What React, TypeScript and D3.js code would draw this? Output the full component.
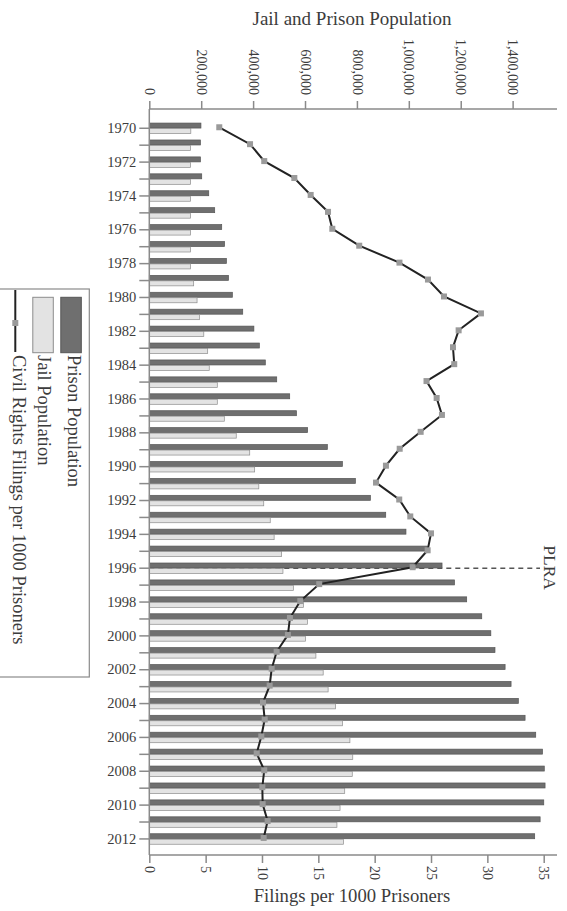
import { useEffect, useRef } from 'react';
import * as d3 from 'd3';

const years = [
  1970, 1971, 1972, 1973, 1974, 1975, 1976, 1977, 1978, 1979,
  1980, 1981, 1982, 1983, 1984, 1985, 1986, 1987, 1988, 1989,
  1990, 1991, 1992, 1993, 1994, 1995, 1996, 1997, 1998, 1999,
  2000, 2001, 2002, 2003, 2004, 2005, 2006, 2007, 2008, 2009,
  2010, 2011, 2012,
];

// thousands of people
const prisonPop = [
  199, 197, 197, 202, 229, 252, 279, 290, 297, 305,
  320, 360, 403, 424, 447, 491, 541, 567, 610, 686,
  744, 794, 852, 911, 989, 1071, 1128, 1176, 1223, 1281,
  1316, 1332, 1371, 1394, 1422, 1448, 1489, 1515, 1522, 1525,
  1520, 1506, 1485,
];

const jailPop = [
  160, 159, 159, 159, 159, 159, 159, 159, 159, 171,
  184, 193, 210, 225, 231, 262, 262, 289, 335, 387,
  406, 422, 441, 466, 481, 510, 515, 555, 594, 609,
  602, 642, 670, 689, 718, 744, 773, 784, 782, 753,
  735, 723, 748,
];

const filings = [
  6.21, 8.94, 10.2, 12.87, 14.32, 15.86, 16.24, 18.63, 22.2, 24.73,
  26.15, 29.43, 27.45, 26.95, 27.06, 24.6, 25.5, 25.97, 24.08, 22.22,
  21.0, 20.12, 22.18, 23.16, 25.0, 24.7, 23.37, 15.08, 13.4, 12.48,
  12.3, 11.3, 10.86, 10.68, 10.09, 10.24, 9.94, 9.53, 10.2, 10.03,
  10.06, 10.5, 10.15,
];

const popTicks = [0, 200000, 400000, 600000, 800000, 1000000, 1200000, 1400000];
const filingTicks = [0, 5, 10, 15, 20, 25, 30, 35];

const plraYear = 1996;

const FONT = '"Liberation Serif", "DejaVu Serif", serif';
const PRISON_FILL = '#6f6f6f';
const PRISON_STROKE = '#555';
const JAIL_FILL = '#e3e3e3';
const JAIL_STROKE = '#8c8c8c';
const AXIS_COLOR = '#8a8a8a';
const TEXT_COLOR = '#3c3c3c';

export default function App() {
  const svgRef = useRef<SVGSVGElement>(null);

  useEffect(() => {
    if (!svgRef.current) return;
    const svg = d3.select(svgRef.current);
    svg.selectAll('*').remove();

    const width = 567;
    const height = 911;
    const left = 149.3;
    const right = 557;
    const top = 109;
    const bottom = 855;

    svg.attr('width', width).attr('height', height);

    // scales
    const y = d3.scaleBand<number>()
      .domain(years)
      .range([119.8, 847.4])
      .paddingInner(0.35)
      .paddingOuter(0.175);
    const xPop = d3.scaleLinear().domain([0, 1571000]).range([left, right]);
    const xFil = d3.scaleLinear().domain([0, 36.18]).range([left, right]);

    const bw = y.bandwidth() / 2;
    const rows = years.map((yr, i) => ({
      year: yr,
      prison: prisonPop[i] * 1000,
      jail: jailPop[i] * 1000,
      filing: filings[i],
    }));

    // PLRA dashed marker (behind bars)
    const plraY = (y(plraYear) as number) + y.bandwidth() / 2;
    svg.append('line')
      .attr('x1', left)
      .attr('x2', 540)
      .attr('y1', plraY)
      .attr('y2', plraY)
      .attr('stroke', '#555')
      .attr('stroke-width', 1.4)
      .attr('stroke-dasharray', '5,4');

    // bars
    svg.selectAll('.prison')
      .data(rows)
      .enter()
      .append('rect')
      .attr('x', left)
      .attr('y', d => (y(d.year) as number) + 0.3)
      .attr('width', d => xPop(d.prison) - left)
      .attr('height', bw - 0.5)
      .attr('fill', PRISON_FILL)
      .attr('stroke', PRISON_STROKE)
      .attr('stroke-width', 0.7);

    svg.selectAll('.jail')
      .data(rows)
      .enter()
      .append('rect')
      .attr('x', left)
      .attr('y', d => (y(d.year) as number) + bw + 0.3)
      .attr('width', d => xPop(d.jail) - left)
      .attr('height', bw - 0.5)
      .attr('fill', JAIL_FILL)
      .attr('stroke', JAIL_STROKE)
      .attr('stroke-width', 0.7);

    svg.append('text')
      .attr('transform', `translate(544,${plraY - 23}) rotate(90)`)
      .attr('font-family', FONT)
      .attr('font-size', 17.5)
      .attr('fill', TEXT_COLOR)
      .text('PLRA');

    // filings line
    const line = d3.line<typeof rows[number]>()
      .x(d => xFil(d.filing))
      .y(d => (y(d.year) as number) + y.bandwidth() / 2 - 1);
    svg.append('path')
      .datum(rows)
      .attr('d', line)
      .attr('fill', 'none')
      .attr('stroke', '#222')
      .attr('stroke-width', 2);
    svg.selectAll('.marker')
      .data(rows)
      .enter()
      .append('rect')
      .attr('x', d => xFil(d.filing) - 3)
      .attr('y', d => (y(d.year) as number) + y.bandwidth() / 2 - 4)
      .attr('width', 6)
      .attr('height', 6)
      .attr('fill', '#9a9a9a');

    // left year axis
    const yAxis = svg.append('g')
      .attr('transform', `translate(${left},0)`)
      .call(d3.axisLeft(y)
        .tickSize(10)
        .tickPadding(3)
        .tickFormat(d => (+d % 2 === 0 ? String(d) : '')));
    yAxis.select('.domain').attr('d', `M0,${top}V${bottom}`);

    // top population axis
    const topAxis = svg.append('g')
      .attr('transform', `translate(0,${top})`)
      .call(d3.axisTop(xPop)
        .tickValues(popTicks)
        .tickSize(8)
        .tickFormat(d3.format(',')));
    topAxis.select('.domain').attr('d', `M${left},0H${right}`);
    topAxis.selectAll('text')
      .attr('transform', 'rotate(90)')
      .attr('x', -14)
      .attr('y', 0)
      .attr('dy', '0.35em')
      .style('text-anchor', 'end');

    // bottom filings axis
    const botAxis = svg.append('g')
      .attr('transform', `translate(0,${bottom})`)
      .call(d3.axisBottom(xFil)
        .tickValues(filingTicks)
        .tickSize(8));
    botAxis.select('.domain').attr('d', `M${left},0H${right}`);
    botAxis.selectAll('text')
      .attr('transform', 'rotate(90)')
      .attr('x', 11)
      .attr('y', 0)
      .attr('dy', '0.35em')
      .style('text-anchor', 'start');

    svg.selectAll('.domain, .tick line')
      .attr('stroke', AXIS_COLOR)
      .attr('stroke-width', 1.5);
    svg.selectAll('.tick text')
      .attr('font-family', FONT)
      .attr('fill', TEXT_COLOR);
    yAxis.selectAll('text').attr('font-size', 14.5);
    topAxis.selectAll('text').attr('font-size', 14);
    botAxis.selectAll('text').attr('font-size', 14);

    // axis titles
    svg.append('text')
      .attr('x', 352)
      .attr('y', 25)
      .attr('text-anchor', 'middle')
      .attr('font-family', FONT)
      .attr('font-size', 19)
      .attr('fill', TEXT_COLOR)
      .text('Jail and Prison Population');

    svg.append('text')
      .attr('x', 352)
      .attr('y', 902)
      .attr('text-anchor', 'middle')
      .attr('font-family', FONT)
      .attr('font-size', 18.7)
      .attr('fill', TEXT_COLOR)
      .text('Filings per 1000 Prisoners');

    // legend, rotated like the rest of the figure
    const legend = svg.append('g').attr('transform', 'translate(89.3,289) rotate(90)');
    legend.append('rect')
      .attr('x', 0)
      .attr('y', 0)
      .attr('width', 388)
      .attr('height', 92)
      .attr('fill', '#fff')
      .attr('stroke', '#8a8a8a')
      .attr('stroke-width', 1.2);

    const items = [
      { label: 'Prison Population', kind: 'prison', row: 18, shift: 3 },
      { label: 'Jail Population', kind: 'jail', row: 46, shift: 1 },
      { label: 'Civil Rights Filings per 1000 Prisoners', kind: 'line', row: 74, shift: 4 },
    ];
    items.forEach(it => {
      if (it.kind === 'line') {
        legend.append('line')
          .attr('x1', 1).attr('x2', 63)
          .attr('y1', it.row).attr('y2', it.row)
          .attr('stroke', '#222').attr('stroke-width', 2);
        legend.append('rect')
          .attr('x', 31).attr('y', it.row - 3)
          .attr('width', 6).attr('height', 6)
          .attr('fill', '#9a9a9a');
      } else {
        legend.append('rect')
          .attr('x', 8.3).attr('y', it.row - 10)
          .attr('width', 55.4).attr('height', 20.5)
          .attr('fill', it.kind === 'prison' ? PRISON_FILL : JAIL_FILL)
          .attr('stroke', it.kind === 'prison' ? PRISON_STROKE : JAIL_STROKE)
          .attr('stroke-width', 1);
      }
      legend.append('text')
        .attr('x', 66)
        .attr('y', it.row - it.shift)
        .attr('dy', '0.35em')
        .attr('font-family', FONT)
        .attr('font-size', 18.5)
        .attr('fill', TEXT_COLOR)
        .text(it.label);
    });
  }, []);

  return (
    <div style={{ position: 'absolute', left: 0, top: 0 }}>
      <svg ref={svgRef} style={{ display: 'block' }}></svg>
    </div>
  );
}
